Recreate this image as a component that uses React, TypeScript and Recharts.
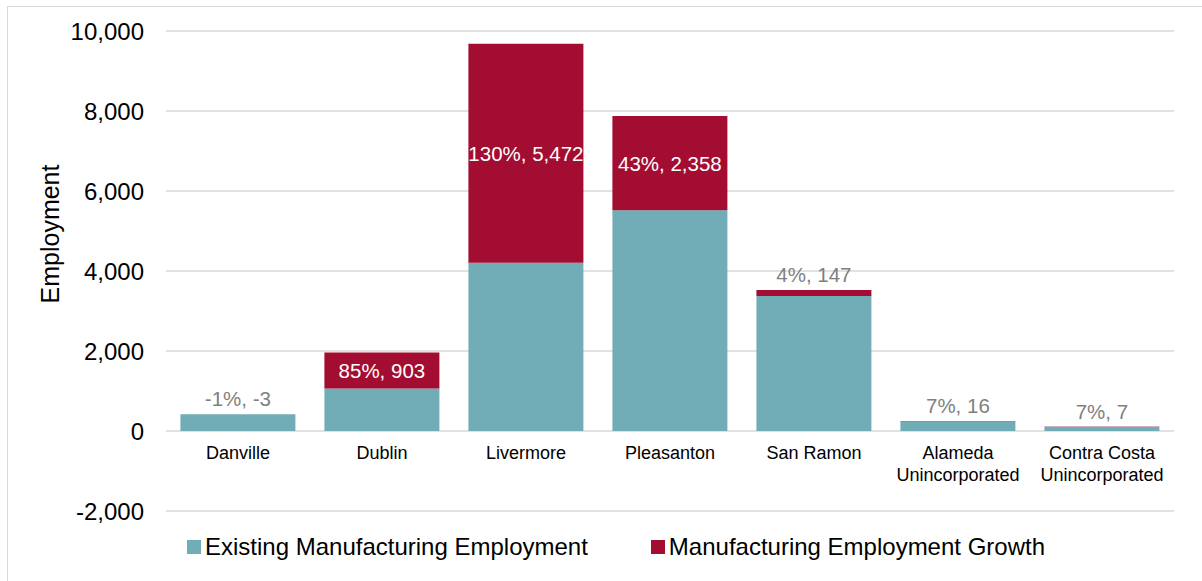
import React from "react";
import { Bar, BarChart, CartesianGrid, LabelList, XAxis, YAxis } from "recharts";

const categories = [
  "Danville",
  "Dublin",
  "Livermore",
  "Pleasanton",
  "San Ramon",
  "Alameda\nUnincorporated",
  "Contra Costa\nUnincorporated",
];
const existing = [420, 1062, 4209, 5520, 3378, 230, 105];
const growth = [-3, 903, 5472, 2358, 147, 16, 7];
const growthPct = [-1, 85, 130, 43, 4, 7, 7];
const yTicks = [-2000, 0, 2000, 4000, 6000, 8000, 10000];

const TEAL = "#71adb6";
const RED = "#a30d31";
const FONT = "'Liberation Sans', Arial, sans-serif";

const data = categories.map((name, i) => ({
  name,
  existing: existing[i],
  growth: growth[i],
  pct: growthPct[i],
}));

const fmt = (v: number) => v.toLocaleString("en-US");

// category labels sit just under the zero line, not at the bottom of the plot
function CategoryTick({ x, y, payload }: any) {
  const lines = String(payload.value).split("\n");
  return (
    <g>
      {lines.map((line, i) => (
        <text key={i} x={x} y={y - 52 + i * 22} textAnchor="middle" fontSize={18} fill="#000" fontFamily={FONT}>
          {line}
        </text>
      ))}
    </g>
  );
}

function GrowthLabel(props: any) {
  const { x, y, width, height, index } = props;
  const g = growth[index];
  const text = `${growthPct[index]}%, ${fmt(g)}`;
  const h = Math.abs(height);
  const top = Math.min(y, y + height);
  if (h > 30) {
    return (
      <text x={x + width / 2} y={top + h / 2} textAnchor="middle" dominantBaseline="central" fontSize={20.5} fill="#fff" fontFamily={FONT}>
        {text}
      </text>
    );
  }
  return (
    <text x={x + width / 2} y={top - 8} textAnchor="middle" fontSize={20.5} fill="#7f7f7f" fontFamily={FONT}>
      {text}
    </text>
  );
}

function YTitle({ viewBox }: any) {
  const cx = 51;
  const cy = viewBox.y + viewBox.height / 2 - 37;
  return (
    <text x={cx} y={cy} transform={`rotate(-90, ${cx}, ${cy})`} textAnchor="middle" fontSize={25} fill="#000" fontFamily={FONT}>
      Employment
    </text>
  );
}

export default function App() {
  return (
    <div
      style={{
        position: "absolute",
        left: 7,
        top: 6,
        width: 1195,
        height: 575,
        borderLeft: "1px solid #d9d9d9",
        borderTop: "1px solid #d9d9d9",
        background: "#fff",
        fontFamily: FONT,
      }}
    >
      <BarChart
        width={1195}
        height={575}
        data={data}
        margin={{ top: 24, right: 29, bottom: 41, left: 0 }}
        barCategoryGap="10%"
      >
        <CartesianGrid vertical={false} stroke="#d9d9d9" strokeWidth={1.5} />
        <XAxis
          dataKey="name"
          axisLine={false}
          tickLine={false}
          tickSize={0}
          tickMargin={0}
          height={30}
          interval={0}
          tick={<CategoryTick />}
        />
        <YAxis
          width={158}
          domain={[-2000, 10000]}
          ticks={yTicks}
          tickFormatter={fmt}
          axisLine={false}
          tickLine={false}
          tickSize={0}
          tickMargin={22}
          tick={{ fontSize: 24, fill: "#000", fontFamily: FONT }}
          label={<YTitle />}
        />
        <Bar dataKey="existing" stackId="a" fill={TEAL} isAnimationActive={false} />
        <Bar dataKey="growth" stackId="a" fill={RED} isAnimationActive={false}>
          <LabelList dataKey="growth" content={<GrowthLabel />} />
        </Bar>
      </BarChart>
      <div
        style={{
          position: "absolute",
          left: 179,
          top: 526,
          display: "flex",
          alignItems: "center",
          fontSize: 24,
          color: "#000",
          whiteSpace: "nowrap",
        }}
      >
        <span style={{ width: 14, height: 14, background: TEAL, display: "inline-block", marginRight: 4 }} />
        <span style={{ marginRight: 63 }}>Existing Manufacturing Employment</span>
        <span style={{ width: 14, height: 14, background: RED, display: "inline-block", marginRight: 4 }} />
        <span>Manufacturing Employment Growth</span>
      </div>
    </div>
  );
}
